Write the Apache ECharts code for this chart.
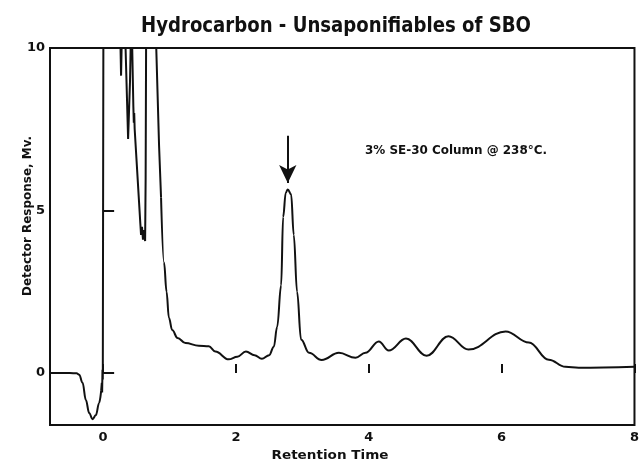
<!DOCTYPE html>
<html>
<head>
<meta charset="utf-8">
<script src="https://cdn.jsdelivr.net/npm/echarts@6/dist/echarts.min.js"></script>
<style>html,body{margin:0;padding:0;background:#fff}#c{width:642px;height:466px}</style>
</head>
<body>
<div id="c"></div>
<script>
// ---- data ----
var titleText = 'Hydrocarbon - Unsaponifiables of SBO';
var xName = 'Retention Time';
var yName = 'Detector Response, Mv.';
var noteText = '3% SE-30 Column @ 238°C.';
var xTicks = [0, 2, 4, 6, 8];
var yTicks = [0, 5, 10];

// pre-injection baseline dip (smooth)
var baseTime = [-0.8, -0.5, -0.4, -0.36, -0.31, -0.26, -0.21, -0.16, -0.11, -0.06, -0.03];
var baseResp = [0, 0, -0.01, -0.05, -0.3, -0.83, -1.23, -1.42, -1.3, -0.92, -0.55];

// solvent front, off-scale region (values above 10 are clipped)
var spikeTime = [-0.03, -0.02, -0.015, -0.01, -0.005, 0.005, 0.2, 0.26, 0.27, 0.28, 0.3, 0.335, 0.376, 0.405, 0.416, 0.42, 0.43, 0.436, 0.455, 0.462, 0.468, 0.475, 0.541, 0.56, 0.571, 0.585, 0.6, 0.615, 0.632, 0.64, 0.647, 0.66, 0.78, 0.797, 0.842, 0.872];
var spikeResp = [-0.55, -0.3, -0.6, 0.1, -0.2, 12, 12, 10.2, 9.15, 10.2, 12, 10.2, 7.2, 9.0, 10.2, 12, 12, 10.2, 8.2, 7.7, 8.0, 7.5, 5.25, 4.6, 4.25, 4.5, 4.1, 4.4, 4.06, 6, 10.2, 12, 12, 10.2, 7.0, 5.4];

// tail, hydrocarbon peak and later bumps (smooth)
var tailTime = [0.872, 0.917, 0.955, 0.99, 1.04, 1.12, 1.24, 1.44, 1.59, 1.69, 1.89, 2.02, 2.15, 2.28, 2.39, 2.5, 2.57, 2.62, 2.68, 2.71, 2.75, 2.78, 2.83, 2.87, 2.92, 2.98, 3.1, 3.29, 3.55, 3.8, 3.95, 4.15, 4.3, 4.56, 4.87, 5.2, 5.5, 6.06, 6.41, 6.71, 6.96, 7.16, 8.0];
var tailResp = [5.4, 3.4, 2.5, 1.7, 1.32, 1.08, 0.92, 0.84, 0.82, 0.66, 0.42, 0.5, 0.66, 0.55, 0.44, 0.55, 0.81, 1.42, 2.7, 4.8, 5.55, 5.65, 5.5, 4.25, 2.5, 1.03, 0.62, 0.4, 0.62, 0.47, 0.62, 0.97, 0.69, 1.06, 0.53, 1.13, 0.72, 1.28, 0.94, 0.41, 0.19, 0.16, 0.19];

// arrow marking the peak
var arrowTime = 2.78;
var arrowFrom = 7.3;
var arrowTo = 5.85;

function zip(a, b) { return a.map(function (v, i) { return [v, b[i]]; }); }

var FONT = '"DejaVu Sans"';
function measure(text, font) {
  var c = document.createElement('canvas').getContext('2d');
  c.font = font;
  return c.measureText(text).width;
}
function squeezedText(text, size, targetW, x, y, rot, align) {
  var font = 'bold ' + size + 'px ' + FONT;
  var w = measure(text, font);
  return {
    type: 'text', x: x, y: y, rotation: rot || 0, scaleX: targetW / w, scaleY: 1,
    style: { text: text, font: font, fill: '#111', align: align || 'center', verticalAlign: 'middle' },
    silent: true
  };
}

var chart = echarts.init(document.getElementById('c'));
var lineStyle = { color: '#111', width: 2 };
chart.setOption({
  animation: false,
  backgroundColor: '#fff',
  grid: { left: 50, right: 6, top: 48, bottom: 41, show: true, borderColor: '#111', borderWidth: 2, backgroundColor: 'transparent' },
  xAxis: {
    type: 'value', min: -0.8, max: 8,
    axisLine: { show: false },
    splitLine: { show: false },
    axisTick: { show: true, inside: true, length: 9, lineStyle: { color: '#111', width: 2 }, customValues: xTicks },
    axisLabel: { customValues: xTicks, color: '#111', fontFamily: FONT, fontWeight: 'bold', fontSize: 13, margin: 6 }
  },
  yAxis: {
    type: 'value', min: -1.6, max: 10,
    axisLine: { show: false },
    splitLine: { show: false },
    axisTick: { show: true, inside: true, length: 11, lineStyle: { color: '#111', width: 2 }, customValues: yTicks },
    axisLabel: { customValues: yTicks, color: '#111', fontFamily: FONT, fontWeight: 'bold', fontSize: 13, margin: 5 }
  },
  series: [
    { type: 'line', data: zip(baseTime, baseResp), smooth: 0.4, smoothMonotone: 'x', showSymbol: false, clip: true, lineStyle: lineStyle },
    { type: 'line', data: zip(spikeTime, spikeResp), smooth: false, showSymbol: false, clip: true, lineStyle: lineStyle },
    { type: 'line', data: zip(tailTime, tailResp), smooth: 0.4, smoothMonotone: 'x', showSymbol: false, clip: true, lineStyle: lineStyle,
      markLine: {
        silent: true, animation: false,
        symbol: ['none', 'arrow'], symbolSize: [13, 18],
        lineStyle: { color: '#111', width: 2, type: 'solid' },
        label: { show: false },
        data: [[{ coord: [arrowTime, arrowFrom] }, { coord: [arrowTime, arrowTo] }]]
      }
    }
  ],
  graphic: [
    squeezedText(titleText, 21, 390, 336, 27, 0, 'center'),
    squeezedText(yName, 12, 160, 28, 216, Math.PI / 2, 'center'),
    squeezedText(xName, 13, 117, 330, 456, 0, 'center'),
    squeezedText(noteText, 12, 182, 365, 151, 0, 'left')
  ]
});
</script>
</body>
</html>
